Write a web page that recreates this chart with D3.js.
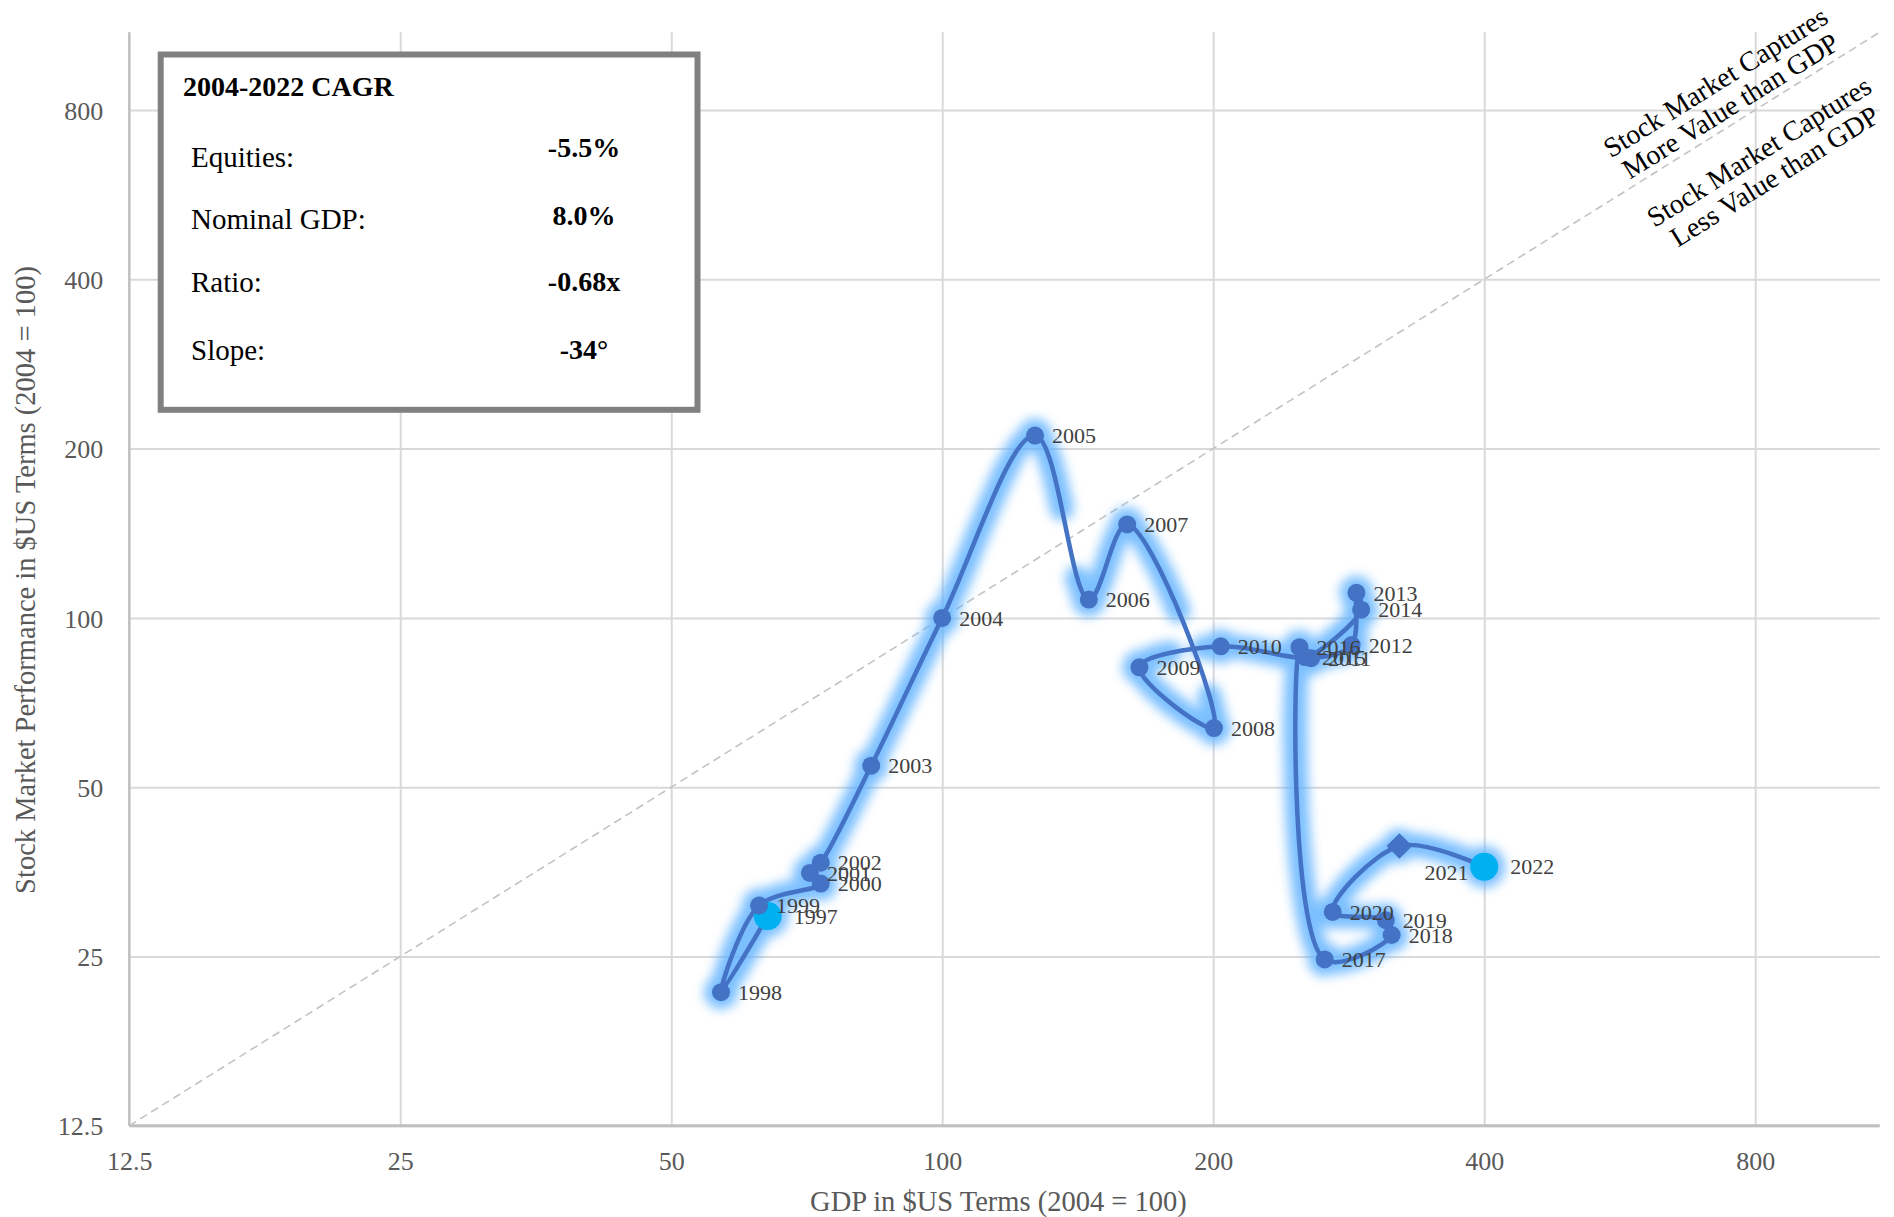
<!DOCTYPE html>
<html>
<head>
<meta charset="utf-8">
<script src="https://cdn.jsdelivr.net/npm/d3@7"></script>
<style>
  html, body { margin: 0; padding: 0; background: #ffffff; }
  svg { display: block; }
  text { font-family: "Liberation Serif", "DejaVu Serif", serif; }
</style>
</head>
<body>
<svg id="chart" width="1894" height="1217"></svg>
<script>
// Yearly path: GDP index (x) against stock market index (y), both in $US, 2004 = 100
const years = [1997, 1998, 1999, 2000, 2001, 2002, 2003, 2004, 2005, 2006, 2007, 2008, 2009,
               2010, 2011, 2012, 2013, 2014, 2015, 2016, 2017, 2018, 2019, 2020, 2021, 2022];
const gdpIndex = [64.0, 56.8, 62.6, 73.3, 71.3, 73.3, 83.4, 100, 126.8, 145.5, 160.5, 200.4, 165.6,
                  203.9, 256.9, 285.0, 288.5, 292.0, 253.0, 249.4, 266.0, 315.7, 311.0, 271.5, 322.0, 400.0];
const equityIndex = [29.5, 21.6, 30.8, 33.7, 35.2, 36.7, 54.6, 100, 211.0, 107.8, 146.6, 63.7, 81.7,
                     89.0, 84.8, 89.5, 110.8, 103.4, 85.2, 88.7, 24.7, 27.3, 29.0, 30.0, 39.3, 36.1];

// Axis tick labels (log base 2)
const axisTicks = [12.5, 25, 50, 100, 200, 400, 800];

// Summary box
const cagrTitle = "2004-2022 CAGR";
const cagrLabels = ["Equities:", "Nominal GDP:", "Ratio:", "Slope:"];
const cagrValues = ["-5.5%", "8.0%", "-0.68x", "-34°"];

// Notes either side of the 45° parity line
const noteAbove = ["Stock Market Captures", "More Value than GDP"];
const noteBelow = ["Stock Market Captures", "Less Value than GDP"];

// Point styling groups
const highlightYears = [1997, 2022];
const diamondYears = [2021];

const points = years.map((yr, i) => ({ year: yr, g: gdpIndex[i], e: equityIndex[i] }));

const W = 1894, H = 1217;
const pLeft = 129.2, pBottom = 1125.8;
const pxPerDoublingX = 271.0, pxPerDoublingY = 169.3;
const domainMin = 12.5, domainMax = 1100;
const span = Math.log2(domainMax / domainMin);
const pRight = pLeft + span * pxPerDoublingX;
const pTop = pBottom - span * pxPerDoublingY;

const x = d3.scaleLog().base(2).domain([domainMin, domainMax]).range([pLeft, pRight]);
const y = d3.scaleLog().base(2).domain([domainMin, domainMax]).range([pBottom, pTop]);

const svg = d3.select("#chart");
svg.append("rect").attr("width", W).attr("height", H).attr("fill", "#ffffff");

const defs = svg.append("defs");
const glow = defs.append("filter").attr("id", "glow")
  .attr("filterUnits", "userSpaceOnUse")
  .attr("x", 0).attr("y", 0).attr("width", W).attr("height", H);
glow.append("feGaussianBlur").attr("stdDeviation", 5.5);

const serif = '"Liberation Serif", "DejaVu Serif", serif';
const tickColor = "#595959";

// Vertical gridlines + x tick labels
const gx = svg.append("g")
  .attr("transform", `translate(0,${pBottom})`)
  .call(d3.axisBottom(x).tickValues(axisTicks).tickSize(-(pBottom - pTop)).tickFormat(d => d));
gx.attr("font-family", serif).attr("font-size", 26);
gx.select(".domain").remove();
gx.selectAll(".tick line").attr("stroke", "#D9D9D9").attr("stroke-width", 2);
gx.selectAll(".tick text").attr("fill", tickColor).attr("y", 35).attr("dy", "0.35em");

// Horizontal gridlines + y tick labels
const gy = svg.append("g")
  .attr("transform", `translate(${pLeft},0)`)
  .call(d3.axisLeft(y).tickValues(axisTicks).tickSize(-(pRight - pLeft)).tickFormat(d => d));
gy.attr("font-family", serif).attr("font-size", 26);
gy.select(".domain").remove();
gy.selectAll(".tick line").attr("stroke", "#D9D9D9").attr("stroke-width", 2);
gy.selectAll(".tick text").attr("fill", tickColor).attr("x", -26).attr("dy", "0.35em");

// Axis lines
svg.append("line").attr("x1", pLeft).attr("x2", pLeft).attr("y1", pTop).attr("y2", pBottom)
  .attr("stroke", "#BFBFBF").attr("stroke-width", 2.2);
svg.append("line").attr("x1", pLeft).attr("x2", pRight).attr("y1", pBottom).attr("y2", pBottom)
  .attr("stroke", "#BFBFBF").attr("stroke-width", 3);

// Parity line (stocks grow in step with GDP)
svg.append("line")
  .attr("x1", x(domainMin)).attr("y1", y(domainMin))
  .attr("x2", x(domainMax)).attr("y2", y(domainMax))
  .attr("stroke", "#C3C3C3").attr("stroke-width", 1.6).attr("stroke-dasharray", "8,5");

// Notes rotated along the parity line
const angle = Math.atan2(pxPerDoublingY, pxPerDoublingX) * 180 / Math.PI;
const rad = angle * Math.PI / 180;
const anchorVal = 768;
const ax = x(anchorVal), ay = y(anchorVal);
const noteLines = [
  { text: noteAbove[0], off: -45 },
  { text: noteAbove[1], off: -17 },
  { text: noteBelow[0], off: 37 },
  { text: noteBelow[1], off: 66 }
];
svg.append("g").selectAll("text").data(noteLines).join("text")
  .attr("transform", d => {
    const cx = ax + d.off * Math.sin(rad);
    const cy = ay + d.off * Math.cos(rad);
    return `translate(${cx},${cy}) rotate(${-angle})`;
  })
  .attr("text-anchor", "middle").attr("dy", "0.35em")
  .attr("font-size", 28).attr("fill", "#000000")
  .text(d => d.text);

// Axis titles
svg.append("text")
  .attr("x", (pLeft + pRight) / 2 - 6).attr("y", 1201).attr("dy", "0.35em")
  .attr("text-anchor", "middle").attr("font-size", 28.5).attr("fill", tickColor)
  .text("GDP in $US Terms (2004 = 100)");
svg.append("text")
  .attr("transform", "translate(25,580) rotate(-90)")
  .attr("dy", "0.35em").attr("text-anchor", "middle")
  .attr("font-size", 28.5).attr("fill", tickColor)
  .text("Stock Market Performance in $US Terms (2004 = 100)");

// Smoothed path through the years
const lineGen = d3.line().x(d => x(d.g)).y(d => y(d.e)).curve(d3.curveCatmullRom.alpha(0.5));

// Soft blue halo beneath the path and markers
const halo = svg.append("g").attr("filter", "url(#glow)").attr("opacity", 0.8);
const haloPath = halo.append("path").datum(points).attr("d", lineGen)
  .attr("fill", "none").attr("stroke", "#5CB0FF").attr("stroke-width", 24)
  .attr("stroke-linejoin", "round").attr("stroke-linecap", "round");
halo.selectAll("circle").data(points).join("circle")
  .attr("cx", d => x(d.g)).attr("cy", d => y(d.e))
  .attr("r", d => highlightYears.includes(d.year) ? 21 : 17)
  .attr("fill", "#5CB0FF");

// The halo thins out midway along a few long strokes
const haloBreaks = [
  { from: 2005, t0: 0.45, t1: 0.85 },
  { from: 2007, t0: 0.45, t1: 0.85 },
  { from: 2009, t0: 0.40, t1: 0.78 }
];
(function applyHaloBreaks() {
  const node = haloPath.node();
  const total = node.getTotalLength();
  const step = 0.5;
  const samples = [];
  for (let l = 0; l <= total; l += step) samples.push([l, node.getPointAtLength(l)]);
  // arc length at each vertex, searched in order along the path
  const lens = [];
  let startIdx = 0;
  points.forEach(p => {
    const px = x(p.g), py = y(p.e);
    let best = Infinity, bestIdx = startIdx;
    for (let k = startIdx; k < samples.length; k++) {
      const s = samples[k][1];
      const dd = (s.x - px) ** 2 + (s.y - py) ** 2;
      if (dd < best) { best = dd; bestIdx = k; }
      if (best < 0.5 && dd > 400) break;
    }
    lens.push(samples[bestIdx][0]);
    startIdx = bestIdx;
  });
  const gaps = haloBreaks.map(b => {
    const i = years.indexOf(b.from);
    const a = lens[i], c = lens[i + 1];
    return [a + (c - a) * b.t0, a + (c - a) * b.t1];
  }).sort((p, q) => p[0] - q[0]);
  const dash = [];
  let pos = 0;
  gaps.forEach(([g0, g1]) => { dash.push(g0 - pos, g1 - g0); pos = g1; });
  dash.push(total - pos + 50, 0);
  haloPath.attr("stroke-dasharray", dash.join(","));
})();

svg.append("path").datum(points).attr("d", lineGen)
  .attr("fill", "none").attr("stroke", "#4472C4").attr("stroke-width", 4.5)
  .attr("stroke-linejoin", "round");

// Markers
const markers = svg.append("g");
markers.selectAll("circle").data(points.filter(d => !diamondYears.includes(d.year))).join("circle")
  .attr("cx", d => x(d.g)).attr("cy", d => y(d.e))
  .attr("r", d => highlightYears.includes(d.year) ? 14 : 9)
  .attr("fill", d => highlightYears.includes(d.year) ? "#00B0F0" : "#4472C4");
markers.selectAll("path").data(points.filter(d => diamondYears.includes(d.year))).join("path")
  .attr("transform", d => `translate(${x(d.g)},${y(d.e)})`)
  .attr("d", d3.symbol().type(d3.symbolDiamond2).size(420))
  .attr("fill", "#4472C4");

// Year labels
function labelDx(d) {
  if (diamondYears.includes(d.year)) return 25;
  return highlightYears.includes(d.year) ? 26 : 17;
}
function labelDy(d) {
  return diamondYears.includes(d.year) ? 26 : 0;
}
svg.append("g").selectAll("text").data(points).join("text")
  .attr("x", d => x(d.g) + labelDx(d))
  .attr("y", d => y(d.e) + labelDy(d))
  .attr("dy", "0.35em")
  .attr("font-size", 22).attr("fill", "#404040")
  .text(d => d.year);

// CAGR summary box
const box = svg.append("g");
box.append("rect").attr("x", 160.7).attr("y", 54.5).attr("width", 536.8).attr("height", 355.3)
  .attr("fill", "#ffffff").attr("stroke", "#808080").attr("stroke-width", 6);
box.append("text").attr("x", 183).attr("y", 96).attr("font-size", 28)
  .attr("font-weight", "bold").attr("fill", "#000").text(cagrTitle);
const labelBase = [167, 229, 292, 360];
const valueBase = [157, 225, 291, 359];
box.selectAll("text.lbl").data(cagrLabels).join("text").attr("class", "lbl")
  .attr("x", 191).attr("y", (d, i) => labelBase[i]).attr("font-size", 29).attr("fill", "#000")
  .text(d => d);
box.selectAll("text.val").data(cagrValues).join("text").attr("class", "val")
  .attr("x", 584).attr("y", (d, i) => valueBase[i]).attr("text-anchor", "middle")
  .attr("font-size", 28).attr("font-weight", "bold").attr("fill", "#000")
  .text(d => d);
</script>
</body>
</html>
